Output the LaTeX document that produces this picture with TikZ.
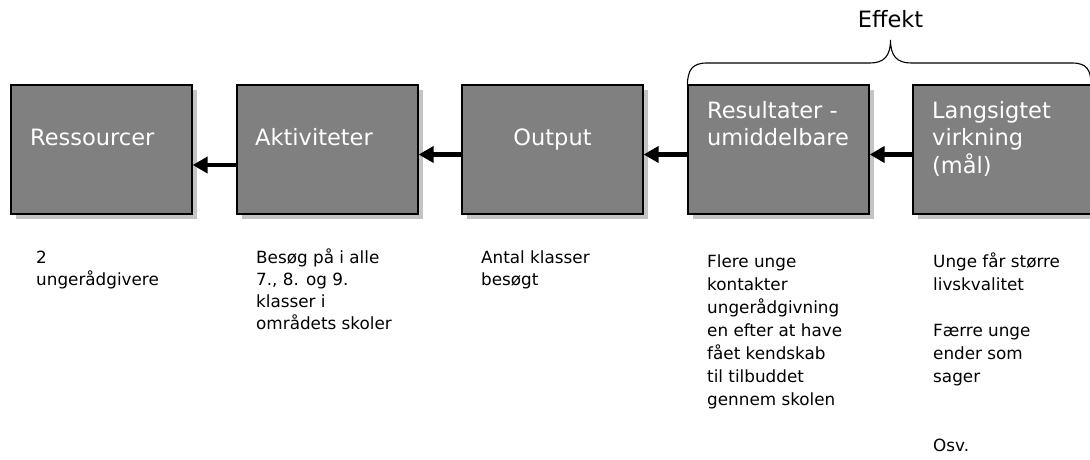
\documentclass[tikz,border=0pt]{standalone}
\usepackage{fontspec}
\setmainfont{DejaVu Sans}
\usetikzlibrary{arrows.meta,shadows}
\definecolor{boxgray}{RGB}{128,128,128}
\definecolor{shadowgray}{RGB}{196,196,196}
\begin{document}
\begin{tikzpicture}[x=1pt,y=-1pt,
  box/.style={draw=black, line width=1.3pt, fill=boxgray, minimum width=181pt,
    minimum height=129pt, inner sep=0pt,
    general shadow={fill=shadowgray, shadow xshift=5pt, shadow yshift=-5pt}},
  boxlabel/.style={text=white, font=\fontsize{22.5}{27.5}\selectfont, inner sep=0pt, align=left},
  leftnote/.style={font=\fontsize{16.8}{22}\selectfont, inner sep=0pt, align=left, anchor=base west},
  rightnote/.style={font=\fontsize{16.8}{23}\selectfont, inner sep=0pt, align=left, anchor=base west},
  arr/.style={line width=4.5pt, -{Triangle[length=15pt,width=16pt]}},
  bracepath/.style={line width=1.1pt}
]
\useasboundingbox (0,0) rectangle (1090,460);

\node[box] (ress) at (101.5,149.5) {};
\node[box] (akt)  at (327.5,149.5) {};
\node[box] (out)  at (552.5,149.5) {};
\node[box] (res)  at (778.5,149.5) {};
\node[box] (lang) at (1003.5,149.5) {};

% multi-line nodes: base anchor = baseline of last line
\node[boxlabel, anchor=base west] (lress) at (30,145) {Ressourcer};
\node[boxlabel, anchor=base west] (lakt) at (255,145) {Aktiviteter};
\node[boxlabel, anchor=base] (lout) at (552.5,145) {Output};
\node[boxlabel, anchor=base west] (lres) at (707,145.5) {Resultater -\\umiddelbare};
\node[boxlabel, anchor=base west] (llang) at (932,173) {Langsigtet\\virkning\\(mål)};

\draw[arr] ([yshift=-15.5pt]akt.west) -- ([yshift=-15.5pt]ress.east);
\draw[arr] ([yshift=-5pt]out.west) -- ([yshift=-5pt]akt.east);
\draw[arr] ([yshift=-5pt]res.west) -- ([yshift=-5pt]out.east);
\draw[arr] ([yshift=-5pt]lang.west) -- ([yshift=-5pt]res.east);

\draw[bracepath] (res.north west) .. controls (688,70) and (692,63) .. (707,63)
  -- (870,63) .. controls (884,63) and (890.5,56) .. (890.5,40)
  .. controls (890.5,56) and (897,63) .. (911,63)
  -- (1072,63) .. controls (1087,63) and (1091,70) .. (1091,85);
\node[font=\fontsize{22.5}{27.5}\selectfont, inner sep=0pt, anchor=base] (eff) at (890.5,28) {Effekt};

\node[leftnote] (n1) at (36,285) {2\\ungerådgivere};
\node[leftnote] (n2) at (256,329) {Besøg på i alle\\7., 8. og 9.\\klasser i\\områdets skoler};
\node[leftnote] (n3) at (481,285) {Antal klasser\\besøgt};
\node[rightnote] (n4) at (707,405) {Flere unge\\kontakter\\ungerådgivning\\en efter at have\\fået kendskab\\til tilbuddet\\gennem skolen};
\node[rightnote] (n5) at (933,451) {Unge får større\\livskvalitet\\[23pt]Færre unge\\ender som\\sager\\[46pt]Osv.};
\end{tikzpicture}
\end{document}
